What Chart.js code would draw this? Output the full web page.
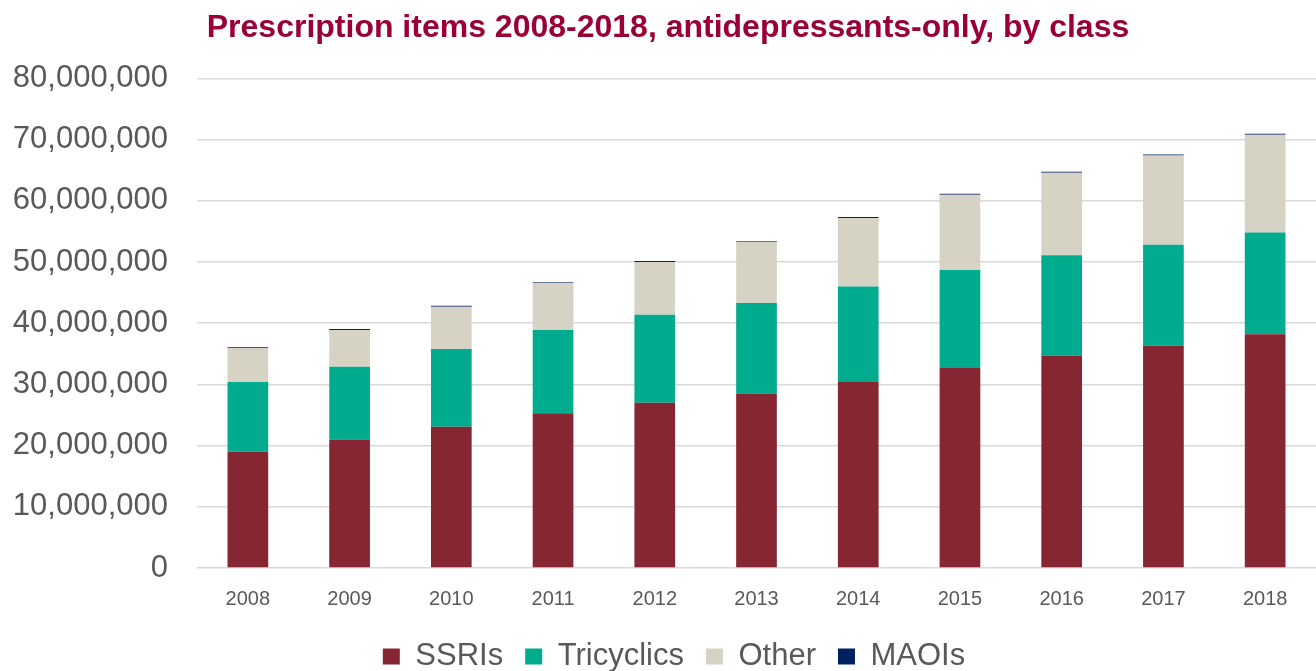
<!DOCTYPE html>
<html>
<head>
<meta charset="utf-8">
<title>Prescription items 2008-2018</title>
<script src="https://cdn.jsdelivr.net/npm/chart.js@4"></script>
<style>
  html, body { margin: 0; padding: 0; background: #fff; }
  #wrap { width: 1316px; height: 671px; }
</style>
</head>
<body>
<div id="wrap"><canvas id="myChart" width="1316" height="671"></canvas></div>
<script>
// prescription items per year, split by antidepressant class
const years = ['2008', '2009', '2010', '2011', '2012', '2013', '2014', '2015', '2016', '2017', '2018'];
const ssris = [19000000, 21000000, 23100000, 25300000, 27000000, 28500000, 30400000, 32700000, 34700000, 36300000, 38200000];
const tricyclics = [11400000, 11900000, 12700000, 13600000, 14400000, 14800000, 15600000, 16000000, 16400000, 16500000, 16600000];
const other = [5500000, 6000000, 6900000, 7700000, 8600000, 10000000, 11200000, 12300000, 13500000, 14600000, 16000000];
const maois = [150000, 150000, 150000, 150000, 150000, 150000, 150000, 150000, 150000, 150000, 150000];

const textGrey = '#595959';
const font = "'Liberation Sans', Arial, sans-serif";

// nudge title and legend a bit to the right, they sit off-centre over the plot
const nudgeBoxes = {
    id: 'nudgeBoxes',
    afterLayout(chart) {
        const move = (box, dx, dy) => {
            box.left += dx; box.right += dx;
            box.top += dy; box.bottom += dy;
        };
        move(chart.titleBlock, 7, 0);
        move(chart.legend, 13, -2);
    }
};

const ctx = document.getElementById('myChart').getContext('2d');

const myChart = new Chart(ctx, {
    type: 'bar',
    data: {
        labels: years,
        datasets: [
            { label: 'SSRIs', data: ssris, backgroundColor: '#862633' },
            { label: 'Tricyclics', data: tricyclics, backgroundColor: '#00ab8e' },
            { label: 'Other', data: other, backgroundColor: '#d6d2c4' },
            { label: 'MAOIs', data: maois, backgroundColor: '#002060' },
        ],
    },
    plugins: [nudgeBoxes],
    options: {
        responsive: false,
        animation: false,
        devicePixelRatio: 1,
        layout: {
            // legend sits low, so the bottom edge is pulled past the canvas a little
            padding: { left: 6, right: 0, top: 0, bottom: -13 }
        },
        datasets: {
            bar: {
                barPercentage: 0.4,
                categoryPercentage: 1,
                borderWidth: 0,
            }
        },
        plugins: {
            title: {
                display: true,
                text: 'Prescription items 2008-2018, antidepressants-only, by class',
                color: '#9a0036',
                font: { family: font, size: 32, weight: 'bold' },
                padding: { top: 9, bottom: 31 },
            },
            legend: {
                display: true,
                position: 'bottom',
                labels: {
                    color: textGrey,
                    font: { family: font, size: 31 },
                    boxWidth: 17,
                    boxHeight: 16,
                    padding: 22,
                },
            },
            tooltip: { enabled: false },
        },
        scales: {
            x: {
                stacked: true,
                grid: { display: false, drawTicks: false },
                border: { display: false },
                ticks: {
                    color: textGrey,
                    font: { family: font, size: 20 },
                    padding: 19,
                },
                afterFit: scale => { scale.height -= 9; },
            },
            y: {
                stacked: true,
                min: 0,
                max: 80000000,
                grid: { color: '#d9d9d9', lineWidth: 1.5, drawTicks: false },
                border: { display: false },
                ticks: {
                    stepSize: 10000000,
                    color: textGrey,
                    font: { family: font, size: 31 },
                    padding: 29,
                    callback: value => value.toLocaleString('en-US'),
                },
                afterFit: scale => { scale.width = 191; },
            },
        },
    },
});
</script>
</body>
</html>
